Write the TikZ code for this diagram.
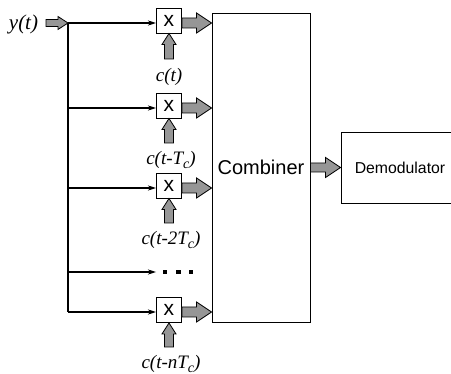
\documentclass[tikz,border=0pt]{standalone}
\usepackage{fontspec}
\setmainfont{Liberation Serif}
\setsansfont{Liberation Sans}
\usetikzlibrary{arrows.meta,calc}
\definecolor{arrowgray}{RGB}{150,150,150}
\tikzset{
  mult/.style={draw, line width=0.9pt, fill=white, minimum width=25pt, minimum height=25pt, inner sep=0pt,
    font=\sffamily\fontsize{21}{21}\selectfont},
  lbl/.style={inner sep=0pt, font=\itshape\fontsize{19}{19}\selectfont},
  conn/.style={line width=1.1pt, -{Stealth[length=8pt,width=5pt,inset=2pt]}},
  bus/.style={line width=1.1pt},
  barrow/.style={draw=black, fill=arrowgray, line width=0.8pt, line join=miter},
  bigbox/.style={draw, line width=0.9pt, inner sep=0pt},
  dotsq/.style={fill=black, minimum size=4.5pt, inner sep=0pt},
}
\newcommand\csub[1]{\raisebox{-0.45ex}{\fontsize{14}{14}\selectfont #1}}
\newcommand\hbarrow[5]{%
  \draw[barrow] let \p1=(#1), \p2=(#2) in
   (\x1,\y2+#3) -- (\x2-#5,\y2+#3) -- (\x2-#5,\y2+#4) -- (\x2,\y2) --
   (\x2-#5,\y2-#4) -- (\x2-#5,\y2-#3) -- (\x1,\y2-#3) -- cycle;}
\newcommand\vbarrow[5]{%
  \draw[barrow] let \p1=(#1), \p2=(#2) in
   (\x2+#3,\y1) -- (\x2+#3,\y2-#5) -- (\x2+#4,\y2-#5) -- (\x2,\y2) --
   (\x2-#4,\y2-#5) -- (\x2-#3,\y2-#5) -- (\x2-#3,\y1) -- cycle;}
\begin{document}
\begin{tikzpicture}[x=1pt,y=-1pt]
\useasboundingbox (0,0) rectangle (451,374);
% combiner and demodulator
\node[bigbox, minimum width=98pt, minimum height=309pt, font=\sffamily\fontsize{20}{20}\selectfont] (comb) at (261,167.5) {Combiner};
\node[bigbox, minimum width=118pt, minimum height=71pt, font=\sffamily\fontsize{15.8}{15.8}\selectfont] (demod) at (400,167.5) {Demodulator};
% input
\node[lbl, font=\itshape\fontsize{21}{21}\selectfont] (yl) at (23.5,24) {y(t)};
\coordinate (yin) at (46,23);
\coordinate (b1) at (68,23);
\coordinate (b2) at (68,108);
\coordinate (b3) at (68,188);
\coordinate (bd) at (68,272);
\coordinate (b4) at (68,312);
\hbarrow{yin}{b1}{3.5pt}{6.5pt}{10pt}
\draw[bus] (b1) -- (b4);
% multipliers
\node[mult] (m1) at (169,20.5) {x};
\node[mult] (m2) at (169,105.5) {x};
\node[mult] (m3) at (169,185.5) {x};
\node[mult] (m4) at (169,310) {x};
\foreach \i in {1,2,3,4} {\draw[conn] (b\i) -- (b\i -| m\i.west);}
\draw[conn] (bd) -- (bd -| m4.west);
\node[dotsq] (d1) at (165,272) {};
\node[dotsq] (d2) at (178.5,272) {};
\node[dotsq] (d3) at (191,272) {};
% outputs to combiner
\foreach \i in {1,2,3,4} {\hbarrow{m\i.east}{b\i -| comb.west}{5pt}{10pt}{15pt}}
\hbarrow{comb.east}{demod.west}{4.5pt}{10pt}{15pt}
% code inputs
\coordinate (c1) at (169,59);
\coordinate (c2) at (169,143);
\coordinate (c3) at (169,223);
\coordinate (c4) at (169,347);
\foreach \i in {1,2,3,4} {\vbarrow{c\i}{m\i.south}{4.5pt}{7pt}{11pt}}
\node[lbl] (l1) at (169,77) {c(t)};
\node[lbl] (l2) at (171,160) {c(t-T\csub{c})};
\node[lbl] (l3) at (171,240) {c(t-2T\csub{c})};
\node[lbl] (l4) at (171,364) {c(t-nT\csub{c})};
\end{tikzpicture}
\end{document}
